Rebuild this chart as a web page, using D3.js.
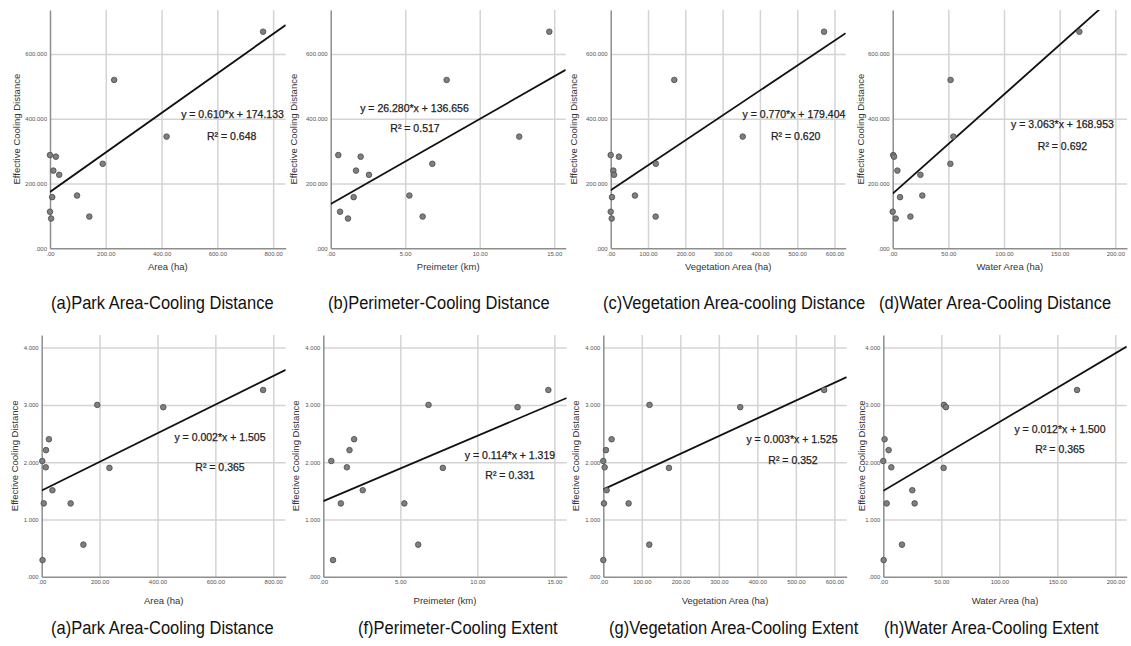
<!DOCTYPE html>
<html lang="en">
<head>
  <meta charset="UTF-8">
  <title>Park size vs. cooling distance and extent</title>
  <script src="https://d3js.org/d3.v7.min.js"></script>
  <style type="text/css">
    body {
      margin: 0;
      background: #fff;
    }

    svg {
      display: block;
      font-family: "Liberation Sans", Arial, sans-serif;
    }

    .grid line {
      stroke: #d4d4d4;
      stroke-width: 1.5;
    }

    .grid path {
      display: none;
    }

    .axis path {
      stroke: #8e8e8e;
      stroke-width: 1.5;
    }

    .axis line {
      display: none;
    }

    .axis text {
      font-size: 6px;
      fill: #555;
    }

    .axis-title {
      font-size: 9.5px;
      fill: #333;
    }

    .caption {
      font-size: 16.5px;
      fill: #111;
    }

    .equation {
      font-size: 10.5px;
      fill: #222;
      stroke: #222;
      stroke-width: 0.25;
    }

    circle.dot {
      fill: #7f7f7f;
      stroke: #4a4a4a;
      stroke-width: 0.8;
    }

    .fit {
      stroke: #111;
      stroke-width: 1.8;
      fill: none;
    }
  </style>
</head>

<body>
  <div id="chart">
    <svg width="1131" height="646"></svg>
  </div>
  <script type="text/javascript">
    // Data (13 parks, same order in every array of a row)
    const coolingDistance = [669, 520, 345, 261, 288, 283, 240, 227, 158, 163, 113, 92, 98];
    const coolingExtent = [3.26, 3.00, 2.96, 1.90, 2.40, 2.21, 2.02, 1.91, 1.51, 1.28, 1.28, 0.56, 0.29];

    // x values, top row (cooling distance)
    const parkAreaD = [764, 230, 418, 189, 0, 21, 12, 33, 8, 97, 0, 4, 141];
    const perimeterD = [14.67, 7.78, 12.65, 6.82, 0.51, 2.01, 1.70, 2.57, 1.54, 5.28, 0.63, 1.16, 6.17];
    const vegetationD = [572, 170.5, 354, 121, 0, 22, 7, 9, 3.5, 65, 0, 2.7, 120.5];
    const waterD = [167.7, 52, 54.5, 51.8, 0.5, 1.2, 4.2, 24.9, 6.6, 26.6, 0, 2.7, 15.9];

    // x values, bottom row (cooling extent)
    const parkAreaE = [765, 192, 420, 234, 25, 15, 2, 14, 37, 7, 100, 144, 3];
    const perimeterE = [14.61, 6.83, 12.61, 7.76, 2.00, 1.70, 0.52, 1.53, 2.56, 1.14, 5.26, 6.16, 0.63];
    const vegetationE = [573.5, 120, 355.5, 170.4, 21.6, 6.9, 0, 3.5, 8.7, 1.7, 65.7, 119.4, 0];
    const waterE = [167, 52.3, 54, 52, 1.1, 4.6, 0, 6.9, 25, 2.9, 27, 16.1, 0.3];

    // fit lines
    const slopeD = [0.610, 26.280, 0.770, 3.063];
    const interceptD = [174.133, 136.656, 179.404, 168.953];
    const r2D = [0.648, 0.517, 0.620, 0.692];
    const slopeE = [0.002, 0.114, 0.003, 0.012];
    const slopeEDrawn = [0.0025, 0.114, 0.0031, 0.012]; // unrounded slopes as drawn
    const interceptE = [1.505, 1.319, 1.525, 1.500];
    const r2E = [0.365, 0.331, 0.352, 0.365];

    // axes
    const xTitles = ["Area (ha)", "Preimeter (km)", "Vegetation Area (ha)", "Water Area (ha)"];
    const xTickValues = [[0, 200, 400, 600, 800], [0, 5, 10, 15], [0, 100, 200, 300, 400, 500, 600], [0, 50, 100, 150, 200]];
    const xMaxD = [845, 15.77, 630, 210.5];
    const xMaxE = [843, 15.8, 632, 209.8];
    const distanceTicks = [0, 200, 400, 600];
    const distanceMax = 736;
    const extentTicks = [0, 1, 2, 3, 4];
    const extentMax = 4.22;
    const yTitle = "Effective Cooling Distance";

    const captionsTop = ["(a)Park Area-Cooling Distance", "(b)Perimeter-Cooling Distance", "(c)Vegetation Area-cooling Distance", "(d)Water Area-Cooling Distance"];
    const captionsBottom = ["(a)Park Area-Cooling Distance", "(f)Perimeter-Cooling Extent", "(g)Vegetation Area-Cooling Extent", "(h)Water Area-Cooling Extent"];

    // Layout (pixels)
    const rows = [
      {
        top: 10, bottom: 248.3,
        lefts: [50, 330.7, 610.7, 892.7], rights: [285.7, 565.7, 845.7, 1127],
        yTitleOff: [33, 36.7, 36.7, 32],
        xTitleY: 267, captionY: 309,
        captionX: [51, 328, 603, 879],
        eqPos: [[182.5, 104], [83.8, 98.3], [183.3, 104.3], [169.8, 114]],
        r2Pos: [[181.7, 126], [84.3, 118.3], [185, 126], [169.8, 136.7]]
      },
      {
        top: 335, bottom: 576.7,
        lefts: [41.7, 323.3, 603.3, 883.3], rights: [285.7, 566.7, 846.7, 1126.7],
        yTitleOff: [26.7, 28, 28, 21.6],
        xTitleY: 601, captionY: 634,
        captionX: [51, 358, 609, 884],
        eqPos: [[178.3, 102.3], [186.7, 120], [188.7, 104], [176.7, 94]],
        r2Pos: [[178.3, 132.3], [186.7, 140.7], [189.7, 125], [176.7, 114.3]]
      }
    ];

    const rowData = [
      { xs: [parkAreaD, perimeterD, vegetationD, waterD], ys: coolingDistance, xMax: xMaxD,
        yTicks: distanceTicks, yMax: distanceMax, slope: slopeD, slopeDrawn: slopeD,
        intercept: interceptD, r2: r2D, captions: captionsTop },
      { xs: [parkAreaE, perimeterE, vegetationE, waterE], ys: coolingExtent, xMax: xMaxE,
        yTicks: extentTicks, yMax: extentMax, slope: slopeE, slopeDrawn: slopeEDrawn,
        intercept: interceptE, r2: r2E, captions: captionsBottom }
    ];

    let svg = d3.select("div#chart svg");
    svg.append("rect").attr("width", 1131).attr("height", 646).attr("fill", "#fff");

    // ".00" style labels (no leading zero)
    const noLead = f => v => f(v).replace(/^0\./, ".");
    const fmtX = noLead(d3.format(".2f"));
    const fmtY = noLead(d3.format(".3f"));
    const fmt3 = d3.format(".3f");

    rows.forEach(function (row, r) {
      let rd = rowData[r];
      for (let i = 0; i < 4; i++) {
        let left = row.lefts[i];
        let width = row.rights[i] - left;
        let height = row.bottom - row.top;

        let g = svg.append("g")
          .attr("transform", "translate(" + left + "," + row.top + ")");

        let x = d3.scaleLinear().domain([0, rd.xMax[i]]).range([0, width]);
        let y = d3.scaleLinear().domain([0, rd.yMax]).range([height, 0]);

        // gridlines
        g.append("g")
          .attr("class", "grid")
          .attr("transform", "translate(0," + height + ")")
          .call(d3.axisBottom(x).tickValues(xTickValues[i].filter(v => v > 0)).tickSize(-height).tickFormat(""));
        g.append("g")
          .attr("class", "grid")
          .call(d3.axisLeft(y).tickValues(rd.yTicks.filter(v => v > 0)).tickSize(-width).tickFormat(""));

        // axes
        g.append("g")
          .attr("class", "axis")
          .attr("transform", "translate(0," + height + ")")
          .call(d3.axisBottom(x).tickValues(xTickValues[i]).tickSize(0).tickSizeOuter(0).tickPadding(3.5).tickFormat(fmtX));
        g.append("g")
          .attr("class", "axis")
          .call(d3.axisLeft(y).tickValues(rd.yTicks).tickSize(0).tickSizeOuter(0).tickPadding(3).tickFormat(fmtY));

        // axis titles
        g.append("text")
          .attr("class", "axis-title")
          .attr("x", width / 2)
          .attr("y", row.xTitleY - row.top)
          .attr("dy", "0.35em")
          .style("text-anchor", "middle")
          .text(xTitles[i]);

        g.append("text")
          .attr("class", "axis-title")
          .attr("transform", "rotate(-90)")
          .attr("x", -height / 2)
          .attr("y", -row.yTitleOff[i])
          .attr("dy", "0.35em")
          .style("text-anchor", "middle")
          .text(yTitle);

        // fit line, clipped to plot area
        let clipId = "clip" + r + "_" + i;
        g.append("clipPath").attr("id", clipId)
          .append("rect").attr("width", width).attr("height", height);

        let x0 = 0, x1 = rd.xMax[i];
        g.append("line")
          .attr("class", "fit")
          .attr("clip-path", "url(#" + clipId + ")")
          .attr("x1", x(x0))
          .attr("y1", y(rd.slopeDrawn[i] * x0 + rd.intercept[i]))
          .attr("x2", x(x1))
          .attr("y2", y(rd.slopeDrawn[i] * x1 + rd.intercept[i]));

        // points
        let pts = rd.xs[i].map((v, k) => ({ x: v, y: rd.ys[k] }));
        g.append("g")
          .selectAll("circle")
          .data(pts)
          .enter()
          .append("circle")
          .attr("class", "dot")
          .attr("cx", p => x(p.x))
          .attr("cy", p => y(p.y))
          .attr("r", 2.8);

        // equation + R²
        g.append("text")
          .attr("class", "equation")
          .attr("x", row.eqPos[i][0])
          .attr("y", row.eqPos[i][1])
          .attr("dy", "0.35em")
          .style("text-anchor", "middle")
          .text("y = " + fmt3(rd.slope[i]) + "*x + " + fmt3(rd.intercept[i]));
        g.append("text")
          .attr("class", "equation")
          .attr("x", row.r2Pos[i][0])
          .attr("y", row.r2Pos[i][1])
          .attr("dy", "0.35em")
          .style("text-anchor", "middle")
          .text("R² = " + fmt3(rd.r2[i]));

        // caption (slightly tall lettering as in the figure)
        svg.append("text")
          .attr("class", "caption")
          .attr("transform", "translate(" + row.captionX[i] + "," + row.captionY + ") scale(1,1.12)")
          .text(rd.captions[i]);
      }
    });
  </script>
</body>
</html>
